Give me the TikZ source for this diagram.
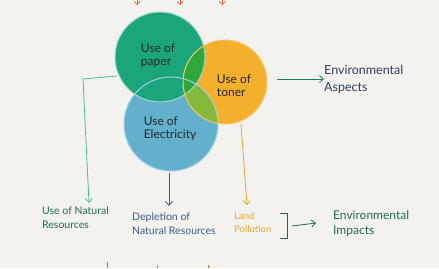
\documentclass[tikz,border=0pt]{standalone}
\usepackage{fontspec}
\setmainfont{Lato}
\usetikzlibrary{arrows.meta}
\definecolor{bg}{HTML}{F4F2EE}
\definecolor{cgreen}{HTML}{1AA57A}
\definecolor{cyellow}{HTML}{F4B02C}
\definecolor{cblue}{HTML}{62B0CB}
\definecolor{cgy}{HTML}{2FA83A}
\definecolor{cyb}{HTML}{86B83A}
\definecolor{tgreen}{HTML}{1E6E4E}
\definecolor{tblue}{HTML}{3B5A8C}
\definecolor{tnavy}{HTML}{2E3B66}
\definecolor{torange}{HTML}{E8A92E}
\definecolor{lgreen}{HTML}{3CC48A}
\definecolor{corange}{HTML}{E8643A}
\tikzset{
  lbl/.style={font=\fontsize{12}{13}\selectfont, text=black!85, align=left},
  small/.style={font=\fontsize{10.5}{14}\selectfont, align=left, inner sep=0pt},
  arr/.style={-{Straight Barb[length=4pt,width=7pt]}, line width=0.8pt},
}
\begin{document}
\begin{tikzpicture}[x=1pt,y=-1pt]
\fill[bg] (0,0) rectangle (439,268);
\useasboundingbox (0,0) rectangle (439,268);
% circles
\fill[cblue] (171,124) circle (47);
\fill[cyellow] (225,82) circle (42);
\begin{scope}
  \clip (171,124) circle (47);
  \fill[cyb] (225,82) circle (42);
\end{scope}
\fill[cgreen] (160,57) circle (45);
\begin{scope}
  \clip (160,57) circle (45);
  \fill[cgy] (225,82) circle (42);
\end{scope}
\draw[white!60!cgreen, line width=1pt] (160,57) circle (45);
\draw[white!40!cblue, line width=1pt] (171,124) circle (47);
\draw[white!30!cyellow, line width=1pt] (225,82) circle (42);
\node[lbl] (paper) at (158,56) {Use of\\paper};
\node[lbl] (toner) at (234,86) {Use of\\toner};
\node[lbl] (elec) at (170,129) {Use of\\Electricity};
\coordinate (gstart) at (117,76);
\coordinate (bstart) at (169,173);
\coordinate (ystart) at (241,124);
\coordinate (rstart) at (277,79);
% labels
\node[small, text=tnavy, font=\fontsize{12.5}{17}\selectfont, anchor=west, align=left] (aspects) at (324,79) {Environmental\\Aspects};
\node[small, text=tgreen, anchor=north west] (natres) at (42,207) {Use of Natural\\Resources};
\node[small, text=tblue, anchor=north west] (deplet) at (132,213) {Depletion of\\Natural Resources};
\node[small, text=torange, font=\fontsize{9.5}{13}\selectfont, anchor=north west] (land) at (234,212) {Land\\Pollution};
\node[small, text=tgreen, font=\fontsize{12}{15}\selectfont, anchor=north west] (impacts) at (333,210) {Environmental\\Impacts};
% connectors
\draw[arr, lgreen] (gstart) -- (83,79) -- (89,203);
\draw[arr, tblue] (bstart) -- (169,206);
\draw[arr, torange] (ystart) -- (247,205);
\draw[arr, cgreen!80!black] (rstart) -- (aspects.west);
\draw[tgreen, line width=0.9pt] (280,213) -- (287,213) -- (287,238) -- (280,238);
\coordinate (brk) at (292,226);
\draw[arr, tgreen] (brk) -- (316,223);
% top arrows
\foreach \x in {137,180,222}{
  \draw[corange, line width=0.8pt, -{Straight Barb[length=3pt,width=6pt]}] (\x,-4) -- (\x,5);
}
\foreach \x/\h in {107/262,157/265,208/265}{
  \draw[corange, line width=0.8pt] (\x,\h) -- (\x,268);
}
\end{tikzpicture}
\end{document}
